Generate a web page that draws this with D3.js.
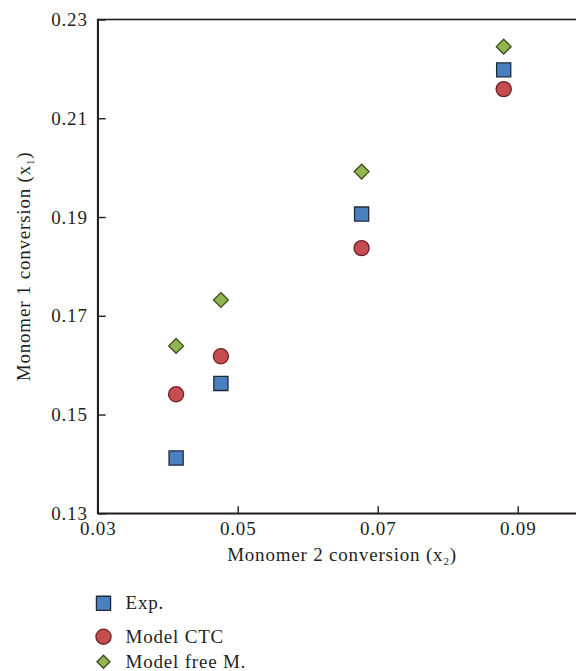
<!DOCTYPE html>
<html>
<head>
<meta charset="utf-8">
<script src="https://cdn.jsdelivr.net/npm/d3@7"></script>
<style>
  html, body { margin: 0; padding: 0; background: #fff; }
  svg { display: block; }
  text { font-family: "Liberation Serif", "DejaVu Serif", serif; fill: #231f20; }
</style>
</head>
<body>
<svg id="chart" width="576" height="671"></svg>
<script>
// Monomer 2 conversion (x2) for each sample
const conversionX2 = [0.0412, 0.0476, 0.0677, 0.0880];
// Monomer 1 conversion (x1): experiment and two models
const expX1 = [0.1412, 0.1563, 0.1906, 0.2198];
const modelCtcX1 = [0.1541, 0.1618, 0.1837, 0.2159];
const modelFreeX1 = [0.1639, 0.1732, 0.1992, 0.2245];

const xTicks = [0.03, 0.05, 0.07, 0.09];
const yTicks = [0.13, 0.15, 0.17, 0.19, 0.21, 0.23];

const seriesNames = ["Exp.", "Model CTC", "Model free M."];

const svg = d3.select("#chart");
const axisColor = "#231f20";
const fontSize = 19;
const spacing = 0.8;

const plotLeft = 97.7, plotRight = 587.7, plotTop = 19.5, plotBottom = 513.3;
const x = d3.scaleLinear().domain([0.03, 0.10]).range([plotLeft, plotRight]);
const y = d3.scaleLinear().domain([0.13, 0.23]).range([plotBottom, plotTop]);

// Frame (right edge falls outside the view)
svg.append("rect")
  .attr("x", plotLeft).attr("y", plotTop)
  .attr("width", plotRight - plotLeft).attr("height", plotBottom - plotTop)
  .attr("fill", "none").attr("stroke", axisColor).attr("stroke-width", 1.6);

// Axes with inward ticks
const xAxis = d3.axisBottom(x).tickValues(xTicks).tickFormat(d3.format(".2f"))
  .tickSizeInner(-7).tickSizeOuter(0).tickPadding(8);
const yAxis = d3.axisLeft(y).tickValues(yTicks).tickFormat(d3.format(".2f"))
  .tickSizeInner(-8).tickSizeOuter(0).tickPadding(10);

const gx = svg.append("g").attr("transform", `translate(0,${plotBottom})`).call(xAxis);
const gy = svg.append("g").attr("transform", `translate(${plotLeft},0)`).call(yAxis);
[gx, gy].forEach(g => {
  g.select(".domain").attr("stroke", axisColor).attr("stroke-width", 1.6);
  g.selectAll(".tick line").attr("stroke", axisColor).attr("stroke-width", 1.4);
  g.selectAll(".tick text")
    .attr("font-family", "Liberation Serif, serif")
    .attr("font-size", fontSize).attr("letter-spacing", spacing)
    .attr("fill", axisColor);
});

// Axis titles
const xTitle = svg.append("text")
  .attr("x", 342).attr("y", 561)
  .attr("text-anchor", "middle").attr("font-size", fontSize)
  .attr("letter-spacing", spacing);
xTitle.append("tspan").text("Monomer 2 conversion (x");
xTitle.append("tspan").attr("font-size", 11).attr("dy", 4).text("2");
xTitle.append("tspan").attr("dy", -4).text(")");

const yTitle = svg.append("text")
  .attr("transform", `translate(30,${(plotTop + plotBottom) / 2}) rotate(-90)`)
  .attr("text-anchor", "middle").attr("font-size", fontSize)
  .attr("letter-spacing", spacing);
yTitle.append("tspan").text("Monomer 1 conversion (x");
yTitle.append("tspan").attr("font-size", 11).attr("dy", 4).text("1");
yTitle.append("tspan").attr("dy", -4).text(")");

// Square diamond (a square turned by 45 degrees)
const diamondSquare = {
  draw(context, size) {
    const r = Math.sqrt(size / 2);
    context.moveTo(0, -r);
    context.lineTo(r, 0);
    context.lineTo(0, r);
    context.lineTo(-r, 0);
    context.closePath();
  }
};

// Marker styles per series
const styles = [
  { symbol: d3.symbolSquare, size: 200, fill: "#4a7fc0", stroke: "#1f2a36" },
  { symbol: d3.symbolCircle, size: 180, fill: "#c64d4f", stroke: "#6e2226" },
  { symbol: diamondSquare, size: 110, fill: "#8fb74d", stroke: "#3f4a22" }
];
const seriesValues = [expX1, modelCtcX1, modelFreeX1];

// Draw in order: diamonds, circles, squares
[2, 1, 0].forEach(i => {
  const st = styles[i];
  svg.append("g").selectAll("path")
    .data(conversionX2.map((cx, j) => [cx, seriesValues[i][j]]))
    .join("path")
    .attr("transform", d => `translate(${x(d[0])},${y(d[1])})`)
    .attr("d", d3.symbol().type(st.symbol).size(st.size))
    .attr("fill", st.fill).attr("stroke", st.stroke).attr("stroke-width", 1.3);
});

// Legend
const legendY = [603.3, 636.7, 661.7];
const legendSizes = [200, 180, 85];
const legend = svg.append("g");
seriesNames.forEach((name, i) => {
  const st = styles[i];
  legend.append("path")
    .attr("transform", `translate(103.5,${legendY[i]})`)
    .attr("d", d3.symbol().type(st.symbol).size(legendSizes[i]))
    .attr("fill", st.fill).attr("stroke", st.stroke).attr("stroke-width", 1.3);
  legend.append("text")
    .attr("x", 125.5).attr("y", legendY[i] + 6)
    .attr("font-size", fontSize).attr("letter-spacing", spacing).text(name);
});
</script>
</body>
</html>
